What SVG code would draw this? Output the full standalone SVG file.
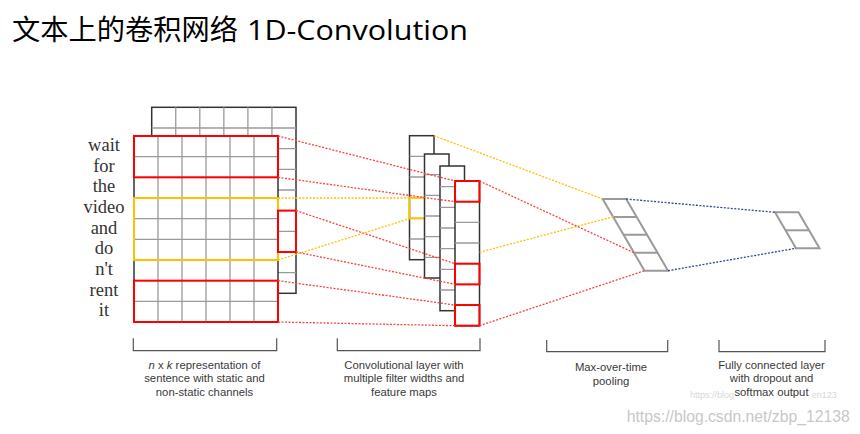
<svg xmlns="http://www.w3.org/2000/svg" width="860" height="434" viewBox="0 0 860 434">
<style>
.frame{fill:#fff;stroke:#333;stroke-width:1.5}
.grid{stroke:#9a9a9a;stroke-width:1.3;fill:none}
.red{fill:none;stroke:#ff0000;stroke-width:2}
.yel{fill:none;stroke:#ffc000;stroke-width:2}
.pool{fill:none;stroke:#9a9a9a;stroke-width:2}
.word{font-family:"Liberation Serif",serif;font-size:18.5px;fill:#333;text-anchor:middle}
.lab{font-family:"Liberation Sans",Arial,sans-serif;font-size:11.3px;fill:#3a3a3a;text-anchor:middle}
.br{fill:none;stroke:#555;stroke-width:1.2}
.dr{stroke:#ff4040;stroke-width:1.3;stroke-dasharray:2 1.5;fill:none}
.dy{stroke:#ffc000;stroke-width:1.3;stroke-dasharray:2 1.5;fill:none}
.db{stroke:#2f4a8a;stroke-width:1.3;stroke-dasharray:2 1.5;fill:none}
.ttl{font-size:28px;fill:#000}
</style>
<rect width="860" height="434" fill="#fff"/>
<g id="title">
<text class="ttl" x="12" y="40" font-family="'Noto Sans CJK SC',sans-serif" textLength="226" lengthAdjust="spacingAndGlyphs">文本上的卷积网络</text>
<text class="ttl" x="247" y="40" font-family="'Open Sans','Noto Sans',sans-serif" textLength="221" lengthAdjust="spacingAndGlyphs">1D-Convolution</text>
</g>
<g id="input-back">
<rect class="frame" x="151.7" y="107.3" width="144.3" height="186"/>
<path class="grid" d="M175.75,107.3V293.3M199.8,107.3V293.3M223.85,107.3V293.3M247.9,107.3V293.3M271.95,107.3V293.3M151.7,128H296M151.7,148.6H296M151.7,169.3H296M151.7,190H296M151.7,210.6H296M151.7,231.3H296M151.7,252H296M151.7,272.6H296"/>
</g>
<g id="input-front">
<rect class="frame" x="134" y="136" width="144" height="186"/>
<path class="grid" d="M158,136V322M182,136V322M206,136V322M230,136V322M254,136V322M134,156.67H278M134,177.33H278M134,198H278M134,218.67H278M134,239.33H278M134,260H278M134,280.67H278M134,301.33H278"/>
<rect class="red" x="134" y="136" width="144" height="41.33"/>
<rect class="red" x="134" y="280.67" width="144" height="41.33"/>
<rect class="yel" x="134" y="198" width="144" height="62"/>
<rect class="red" x="278" y="210.6" width="18" height="41.4"/>
</g>
<g id="words">
<text class="word" x="104" y="151">wait</text>
<text class="word" x="104" y="171.7">for</text>
<text class="word" x="104" y="192.4">the</text>
<text class="word" x="104" y="213">video</text>
<text class="word" x="104" y="233.7">and</text>
<text class="word" x="104" y="254.4">do</text>
<text class="word" x="104" y="275">n't</text>
<text class="word" x="104" y="295.7">rent</text>
<text class="word" x="104" y="316.4">it</text>
</g>
<g id="conv-maps">
<rect class="frame" x="409.5" y="135.7" width="24.5" height="124"/>
<path class="grid" d="M409.5,156.4H434M409.5,177H434M409.5,197.7H434M409.5,218.4H434M409.5,239H434"/>
<rect class="yel" x="409.5" y="197.7" width="24.5" height="20.7"/>
<rect class="frame" x="424.5" y="154" width="24.5" height="124"/>
<path class="grid" d="M424.5,174.7H449M424.5,195.3H449M424.5,216H449M424.5,236.7H449M424.5,257.3H449"/>
<rect class="frame" x="440" y="166" width="24.5" height="144.7"/>
<path class="grid" d="M440,186.7H464.5M440,207.3H464.5M440,228H464.5M440,248.7H464.5M440,269.3H464.5M440,290H464.5"/>
<rect class="frame" x="455" y="181" width="24.5" height="144.7"/>
<path class="grid" d="M455,201.7H479.5M455,222.3H479.5M455,243H479.5M455,263.7H479.5M455,284.3H479.5M455,305H479.5"/>
<rect class="red" x="455" y="181" width="24.5" height="20.7"/>
<rect class="red" x="455" y="263.7" width="24.5" height="20.7"/>
<rect class="red" x="455" y="305" width="24.5" height="20.7"/>
</g>
<g id="pooling">
<polygon class="pool" points="602.7,199 626.2,199 668,270.7 644.5,270.7"/>
<path class="pool" d="M613.1,216.9H636.6M623.6,234.85H647.1M634,252.8H657.5"/>
</g>
<g id="fully-connected">
<polygon class="pool" points="775,212.3 798.5,212.3 819.5,248.3 796,248.3"/>
<path class="pool" d="M785.5,230.3H809"/>
</g>
<g id="connectors">
<path class="dr" d="M278,136L455,181M278,177.3L455,201.7M296,210.6L455,263.7M296,252L455,284.3M278,280.7L455,305M278,322L455,325.7"/>
<path class="dy" d="M278,198L409.5,198M278,260L409.5,218.7M434,135.7L602.7,199M479.5,252.3L613.3,216.7"/>
<path class="dr" d="M479.5,181L634,252.7M479.5,325.7L644.5,270.7"/>
<path class="db" d="M626.2,199L775,212.3M668,270.7L796,248.3"/>
</g>
<g id="brackets">
<path class="br" d="M133.3,338.3V350.7H276.7V338.3"/>
<path class="br" d="M337.3,338.3V350.7H480V338.3"/>
<path class="br" d="M546.7,340V351.7H667.7V340"/>
<path class="br" d="M719,340V351.7H825V340"/>
</g>
<g id="watermark">
<text x="690" y="397.5" font-family="'Liberation Sans',Arial,sans-serif" font-size="9" fill="#d8d8d8">https://blog</text>
<text x="836.7" y="397.5" font-family="'Liberation Sans',Arial,sans-serif" font-size="9" fill="#d8d8d8" text-anchor="end">en123</text>
<text x="626.7" y="422" font-family="'Liberation Sans',Arial,sans-serif" font-size="16.5" fill="#c8c8c8" textLength="223" lengthAdjust="spacingAndGlyphs">https://blog.csdn.net/zbp_12138</text>
</g>
<g id="layer-labels">
<text class="lab" x="204.5" y="368.5"><tspan font-style="italic">n</tspan> x <tspan font-style="italic">k</tspan> representation of</text>
<text class="lab" x="204.5" y="382">sentence with static and</text>
<text class="lab" x="204.5" y="395.5">non-static channels</text>
<text class="lab" x="404" y="368.5">Convolutional layer with</text>
<text class="lab" x="404" y="382">multiple filter widths and</text>
<text class="lab" x="404" y="395.5">feature maps</text>
<text class="lab" x="611" y="371">Max-over-time</text>
<text class="lab" x="611" y="384.5">pooling</text>
<text class="lab" x="771.5" y="368.5">Fully connected layer</text>
<text class="lab" x="771.5" y="382">with dropout and</text>
<text class="lab" x="771.5" y="395.5">softmax output</text>
</g>
</svg>
